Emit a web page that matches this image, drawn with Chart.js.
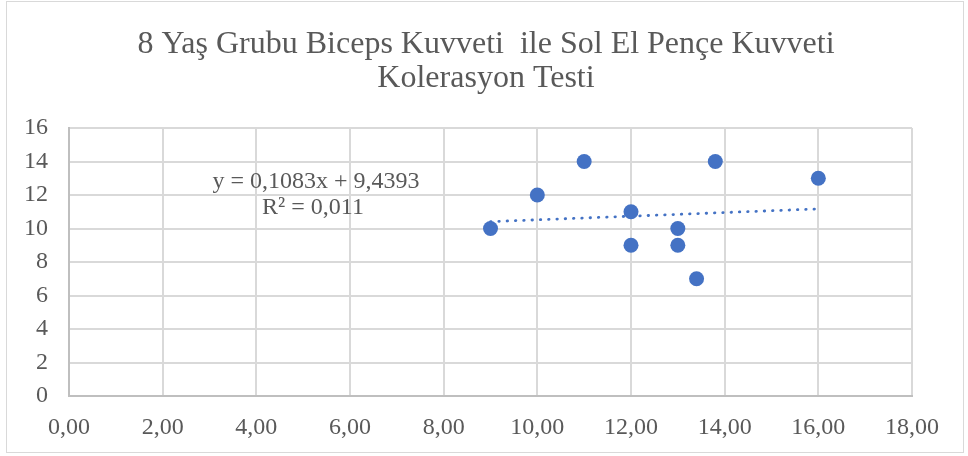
<!DOCTYPE html>
<html>
<head>
<meta charset="utf-8">
<script src="https://cdn.jsdelivr.net/npm/chart.js@4"></script>
<style>
html, body { margin: 0; padding: 0; background: #fff; }
#wrap { position: relative; width: 968px; height: 456px; }
#frame { position: absolute; left: 6px; top: 1px; width: 956px; height: 450px; border: 1px solid #d9d9d9; pointer-events: none; }
</style>
</head>
<body>
<div id="wrap">
<canvas id="chart" width="968" height="456"></canvas>
<div id="frame"></div>
</div>
<script>
// 8 YAŞ GRUBU - BICEPS vs SOL EL PENÇE

const titleLines = ['8 Yaş Grubu Biceps Kuvveti  ile Sol El Pençe Kuvveti', 'Kolerasyon Testi'];
const equationLines = ['y = 0,1083x + 9,4393', 'R² = 0,011'];

const bicepsX = [9, 10, 11, 12, 12, 13, 13, 13.4, 13.8, 16];
const pencheY = [10, 12, 14, 11, 9, 10, 9, 7, 14, 13];

// trendline end points (as drawn)
const trendX = [9, 16];
const trendY = [10.41, 11.17];

const xTicks = [0, 2, 4, 6, 8, 10, 12, 14, 16, 18];
const yTicks = [0, 2, 4, 6, 8, 10, 12, 14, 16];

const textColor = '#595959';
const serif = "'Liberation Serif', 'Times New Roman', serif";

const scatterPoints = bicepsX.map(function (x, i) { return { x: x, y: pencheY[i] }; });
const trendPoints = trendX.map(function (x, i) { return { x: x, y: trendY[i] }; });

const textPlugin = {
    id: 'textPlugin',
    afterDraw: function (chart) {
        const c = chart.ctx;
        c.save();
        c.fillStyle = textColor;
        c.textAlign = 'center';
        c.textBaseline = 'alphabetic';
        c.font = '32px ' + serif;
        c.fillText(titleLines[0], 486, 53);
        c.fillText(titleLines[1], 486, 87);

        c.textBaseline = 'middle';
        c.font = '24px ' + serif;
        c.fillText(equationLines[0], 316, 182);
        c.fillText(equationLines[1], 313, 208);
        c.restore();
    }
};

const ctx = document.getElementById('chart');

new Chart(ctx, {
    type: 'scatter',
    data: {
        datasets: [
            {
                label: 'Trend',
                type: 'line',
                data: trendPoints,
                borderColor: '#4472c4',
                borderWidth: 2.8,
                borderDash: [0.5, 7.8],
                borderCapStyle: 'round',
                pointRadius: 0,
                fill: false,
                order: 2
            },
            {
                label: 'Sol El Pençe',
                data: scatterPoints,
                backgroundColor: '#4472c4',
                borderWidth: 0,
                pointRadius: 7.5,
                pointHoverRadius: 7.5,
                order: 1
            }
        ]
    },
    options: {
        responsive: false,
        animation: false,
        layout: {
            padding: { top: 128, right: 56, bottom: 0, left: 0 }
        },
        plugins: {
            legend: { display: false },
            title: { display: false },
            tooltip: { enabled: false }
        },
        scales: {
            x: {
                type: 'linear',
                min: 0,
                max: 18,
                afterBuildTicks: function (scale) {
                    scale.ticks = xTicks.map(function (v) { return { value: v }; });
                },
                afterFit: function (scale) { scale.height = 60; },
                grid: { color: '#d9d9d9', lineWidth: 2, drawTicks: false },
                border: { color: '#bfbfbf', width: 2 },
                ticks: {
                    color: textColor,
                    padding: 17,
                    font: { family: serif, size: 24 },
                    maxRotation: 0,
                    callback: function (v) { return v.toFixed(2).replace('.', ','); }
                }
            },
            y: {
                min: 0,
                max: 16,
                afterBuildTicks: function (scale) {
                    scale.ticks = yTicks.map(function (v) { return { value: v }; });
                },
                afterFit: function (scale) { scale.width = 69; },
                grid: { color: '#d9d9d9', lineWidth: 2, drawTicks: false },
                border: { color: '#bfbfbf', width: 2 },
                ticks: {
                    color: textColor,
                    padding: 21,
                    font: { family: serif, size: 24 }
                }
            }
        }
    },
    plugins: [textPlugin]
});
</script>
</body>
</html>
